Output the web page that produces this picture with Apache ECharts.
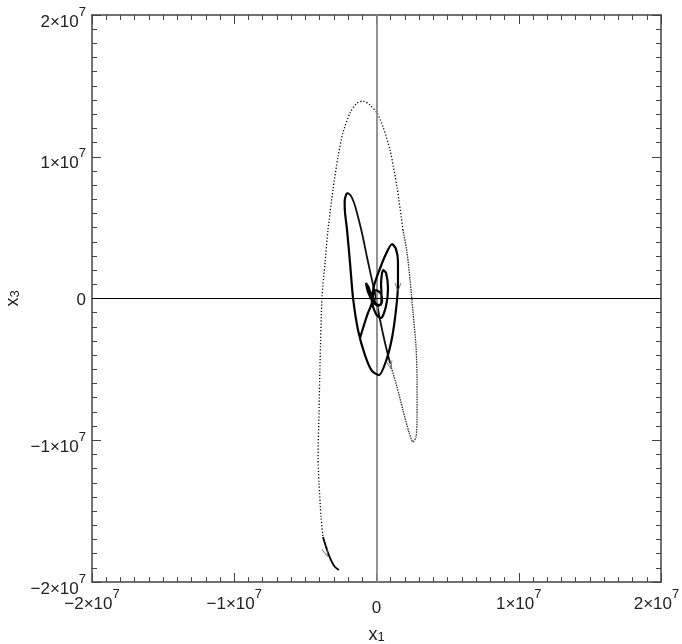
<!DOCTYPE html>
<html>
<head>
<meta charset="utf-8">
<title>x1 - x3 trajectory</title>
<script src="https://cdn.jsdelivr.net/npm/echarts@6/dist/echarts.min.js"></script>
<style>
  html, body { margin: 0; padding: 0; background: #fff; }
  #chart { width: 682px; height: 644px; }
</style>
</head>
<body>
<div id="chart"></div>
<script>
// trajectory pieces (x1, x3)
// slow inner part, drawn thick
const innerPath = [
  [-1.16e6, -2.79e6], [-0.88e6, -1.87e6], [-0.60e6, -1.02e6], [-0.32e6, -0.25e6],
  [-0.53e6, 0.74e6], [-0.74e6, 1.09e6], [-0.60e6, 0.46e6], [-0.25e6, -0.25e6],
  [0.11e6, -0.53e6], [0.39e6, -0.25e6], [0.32e6, 0.32e6], [-0.04e6, 0.60e6],
  [-0.25e6, 0.18e6], [-0.04e6, -0.39e6], [0.32e6, -0.46e6], [0.35e6, 0.30e6],
  [0.32e6, 1.02e6], [0.46e6, 2.01e6], [0.67e6, 1.80e6], [0.81e6, 0.74e6],
  [0.67e6, -0.53e6], [0.32e6, -1.38e6], [-0.04e6, -1.09e6], [-0.32e6, -0.11e6],
  [-0.18e6, 0.88e6], [0.18e6, 1.94e6], [0.60e6, 3.00e6], [1.09e6, 3.84e6],
  [1.37e6, 3.49e6], [1.51e6, 2.58e6], [1.51e6, 0.95e6], [1.37e6, -0.81e6],
  [1.09e6, -2.79e6], [0.67e6, -4.41e6], [0.18e6, -5.40e6], [-0.32e6, -5.11e6],
  [-0.81e6, -3.99e6], [-1.30e6, -2.22e6], [-1.65e6, 0.04e6], [-1.86e6, 2.50e6],
  [-2.07e6, 4.83e6], [-2.21e6, 6.03e6], [-2.24e6, 6.85e6], [-2.12e6, 7.36e6],
  [-2.00e6, 7.44e6]
];
// from the tall loop's top down through the centre
const diagPath = [
  [-2.00e6, 7.44e6], [-1.80e6, 7.25e6], [-1.58e6, 6.75e6], [-1.37e6, 6.03e6],
  [-1.02e6, 4.62e6], [-0.67e6, 2.93e6], [-0.32e6, 1.31e6], [-0.04e6, 0.04e6],
  [0.25e6, -1.52e6], [0.60e6, -3.14e6], [0.95e6, -4.55e6]
];
// faster part, dense dots
const densePath = [
  [0.95e6, -4.55e6], [1.44e6, -6.24e6], [1.86e6, -7.87e6], [2.28e6, -9.42e6],
  [2.57e6, -10.12e6], [2.78e6, -9.77e6], [2.85e6, -8.36e6], [2.85e6, -5.75e6],
  [2.78e6, -3.42e6], [2.57e6, -1.02e6], [2.36e6, 1.31e6], [2.14e6, 3.28e6],
  [1.86e6, 4.83e6]
];
// big outer arc, sparse dots
const outerPath = [
  [1.86e6, 4.83e6], [1.44e6, 7.87e6], [0.95e6, 10.48e6], [0.46e6, 12.10e6],
  [0.04e6, 13.09e6], [-0.46e6, 13.65e6], [-0.95e6, 13.93e6], [-1.37e6, 13.79e6],
  [-1.86e6, 13.09e6], [-2.36e6, 11.68e6], [-2.71e6, 9.98e6], [-3.06e6, 7.65e6],
  [-3.41e6, 4.83e6], [-3.62e6, 2.50e6], [-3.83e6, 0.11e6], [-3.97e6, -4.55e6],
  [-4.04e6, -8.08e6], [-4.11e6, -11.18e6], [-4.04e6, -13.01e6], [-3.90e6, -15.41e6],
  [-3.76e6, -16.83e6]
];
// slowing down at the end
const tailPath = [
  [-3.76e6, -16.83e6], [-3.48e6, -17.74e6], [-3.20e6, -18.45e6], [-2.92e6, -18.94e6],
  [-2.64e6, -19.15e6]
];
// arrow heads: position and heading (deg)
const arrowPos = [[1.51e6, 0.81e6], [0.95e6, -4.69e6], [-3.55e6, -17.9e6]];
const arrowRot = [180, 195, 199];

const axisMin = -2e7, axisMax = 2e7, axisStep = 1e7;

const FONT = "'Liberation Sans',Arial,sans-serif";
const INK = '#222';

function tickLabel(v, isX) {
  if (v === 0) return isX ? '{p|0}' : '{z|0}';
  const sup = (isX && v === axisMax) ? 'sr' : 's';
  return '{m|' + (v < 0 ? '\u2212' : '') + (Math.abs(v) / 1e7) + '\u00d710}{' + sup + '|7}';
}
const labelRich = {
  m: { fontSize: 17, lineHeight: 17, verticalAlign: 'bottom', fontFamily: FONT, color: INK },
  s: { fontSize: 13, lineHeight: 13, padding: [0, 0, 12, 0], verticalAlign: 'bottom', fontFamily: FONT, color: INK },
  sr: { fontSize: 13, lineHeight: 13, padding: [0, 9, 12, 0], verticalAlign: 'bottom', fontFamily: FONT, color: INK },
  z: { fontSize: 17, lineHeight: 17, padding: [0, 0, 10, 0], fontFamily: FONT, color: INK },
  p: { fontSize: 17, lineHeight: 17, padding: [8, 0, 0, 0], fontFamily: FONT, color: INK }
};
const nameRich = {
  a: { fontSize: 18, fontFamily: FONT, color: INK, verticalAlign: 'top', lineHeight: 18 },
  b: { fontSize: 13, fontFamily: FONT, color: INK, verticalAlign: 'bottom', lineHeight: 13, padding: [6, 0, 0, 0] }
};

function baseAxis(extra) {
  return Object.assign({
    type: 'value',
    min: axisMin, max: axisMax, interval: axisStep,
    nameMoveOverlap: false,
    axisLine: { show: true, onZero: false, lineStyle: { color: '#444', width: 1.5 } },
    axisTick: { show: true, inside: true, length: 9, lineStyle: { color: '#444', width: 1 } },
    minorTick: { show: true, splitNumber: 10, length: 5, lineStyle: { color: '#444', width: 1 } },
    splitLine: { show: false },
    minorSplitLine: { show: false }
  }, extra);
}

const chart = echarts.init(document.getElementById('chart'), null, { renderer: 'canvas' });

function pathSeries(data, style, z) {
  return {
    type: 'line', data: data, showSymbol: false, symbol: 'none',
    smooth: 0.25, lineStyle: style, z: z, silent: true, animation: false
  };
}

chart.setOption({
  animation: false,
  backgroundColor: '#fff',
  grid: { left: 92, right: 21, top: 15, bottom: 62, containLabel: false, outerBoundsMode: 'none' },
  xAxis: [
    baseAxis({
      position: 'bottom',
      name: '{a|x}{b|1}', nameLocation: 'middle', nameGap: 44,
      nameTextStyle: { rich: nameRich },
      axisLabel: { margin: 14, formatter: v => tickLabel(v, true), rich: labelRich }
    }),
    baseAxis({ position: 'top', axisLabel: { show: false } })
  ],
  yAxis: [
    baseAxis({
      position: 'left',
      name: '{a|x}{b|3}', nameLocation: 'middle', nameGap: 70,
      nameTextStyle: { rich: nameRich },
      axisLabel: { margin: 6, padding: [14, 0, 0, 0], formatter: v => tickLabel(v, false), rich: labelRich }
    }),
    baseAxis({ position: 'right', axisLabel: { show: false } })
  ],
  series: [
    {
      type: 'line', data: [], z: 1, silent: true,
      markLine: {
        silent: true, symbol: ['none', 'none'], label: { show: false }, animation: false,
        data: [
          { xAxis: 0, lineStyle: { color: '#888', width: 1.8, type: 'solid' } },
          { yAxis: 0, lineStyle: { color: '#000', width: 1.2, type: 'solid' } }
        ]
      }
    },
    pathSeries(innerPath, { color: '#000', width: 2.2 }, 5),
    pathSeries(diagPath, { color: '#111', width: 1.8 }, 4),
    pathSeries(densePath, { color: '#333', width: 1.3, type: [1.5, 1] }, 4),
    pathSeries(outerPath, { color: '#000', width: 1.3, type: [1.2, 2] }, 4),
    pathSeries(tailPath, { color: '#000', width: 1.8 }, 4),
    {
      type: 'scatter', z: 6, silent: true,
      data: arrowPos.map((p, i) => ({ value: p, symbolRotate: arrowRot[i] })),
      symbol: 'path://M0,10L5,0L10,10',
      symbolSize: [6, 8],
      itemStyle: { color: 'rgba(0,0,0,0)', borderColor: '#555', borderWidth: 1 }
    }
  ]
});
</script>
</body>
</html>
